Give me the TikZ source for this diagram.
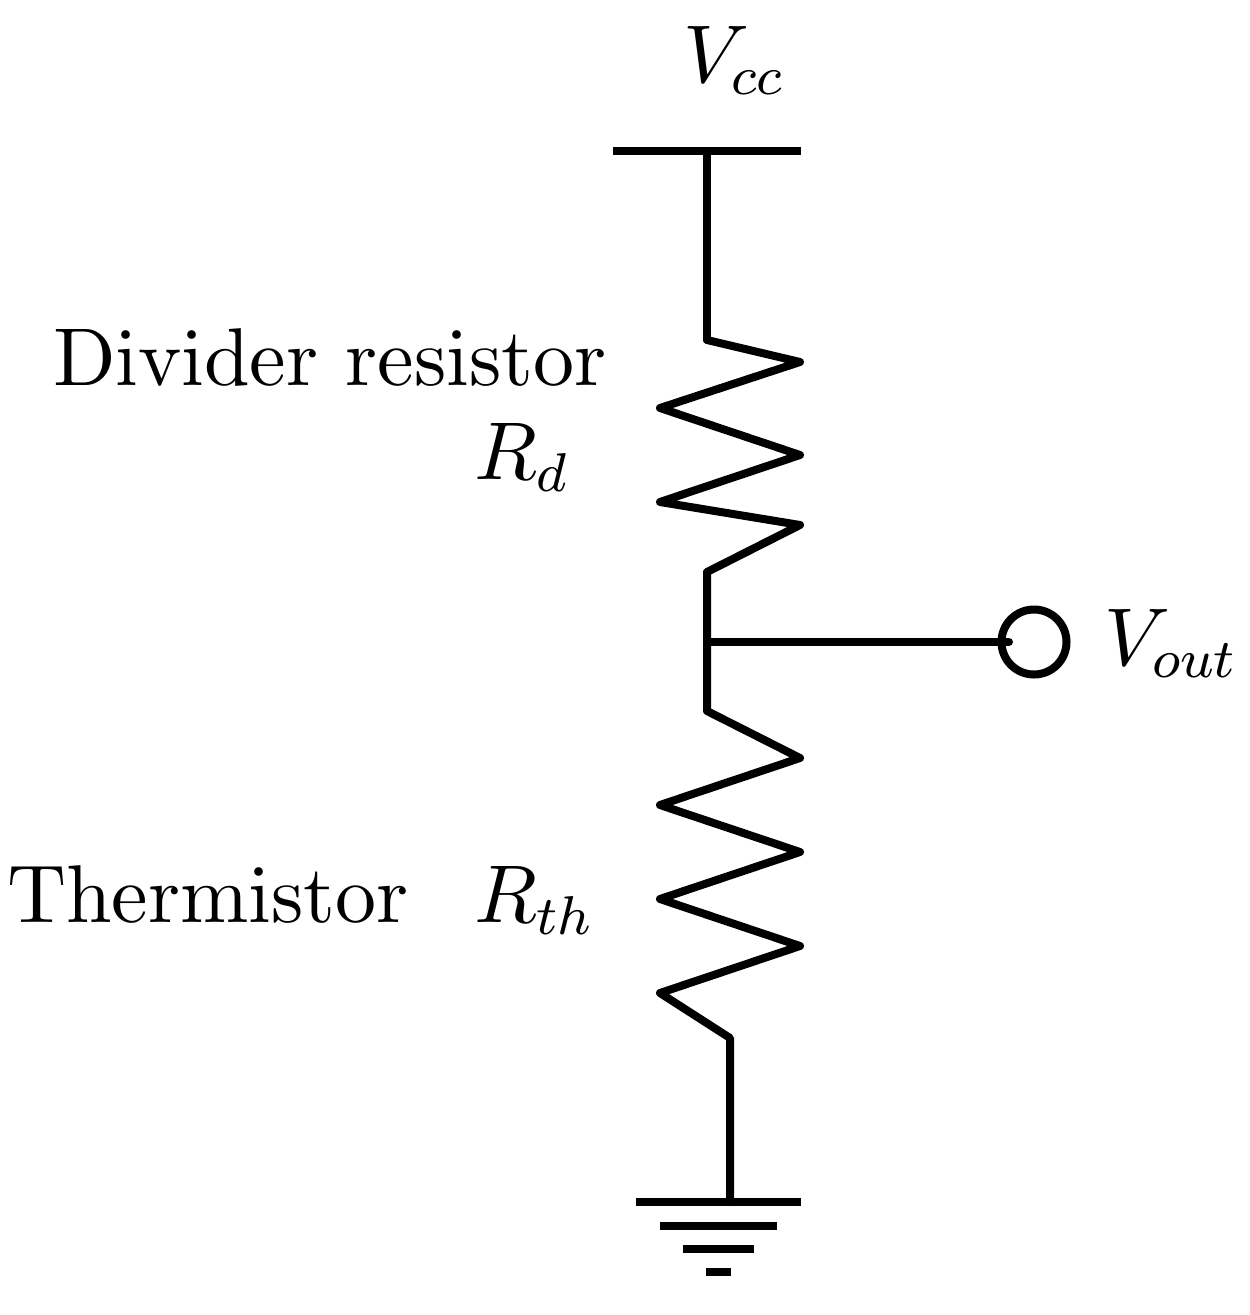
\documentclass[tikz,border=0pt]{standalone}
\DeclareFontShape{OML}{cmm}{m}{it}{<-62>cmmi8 <62->cmmi10}{}
\DeclareFontShape{OMS}{cmsy}{m}{n}{<-62>cmsy8 <62->cmsy10}{}
\DeclareFontShape{OMX}{cmex}{m}{n}{<->cmex10}{}
\DeclareFontFamily{OT1}{bigcmr}{}
\DeclareFontShape{OT1}{bigcmr}{m}{n}{<->cmr10}{}
\DeclareMathSizes{82}{82}{54.7}{41}
\begin{document}
\begin{tikzpicture}[x=1pt,y=-1pt,
  wire/.style={line width=8pt,black,line join=round,line cap=round},
  bar/.style={line width=8pt,black,line cap=butt},
  lab/.style={inner sep=0pt,font=\usefont{OT1}{bigcmr}{m}{n}\fontsize{82}{96}\selectfont}]
\useasboundingbox (0,0) rectangle (1250,1315);
\fill[white] (0,0) rectangle (1250,1315);
\coordinate (vccL) at (613,151);
\coordinate (vccR) at (801,151);
\coordinate (vccT) at (707,151);
\coordinate (rdTop) at (707,340);
\coordinate (rdBot) at (707,572);
\coordinate (junc) at (707,642);
\coordinate (rthTop) at (707,711);
\coordinate (rthBot) at (730,1038);
\coordinate (gndT) at (730,1202);
\coordinate (g1L) at (636,1202);
\coordinate (g1R) at (801,1202);
\coordinate (g2L) at (660,1226);
\coordinate (g2R) at (777,1226);
\coordinate (g3L) at (683,1249);
\coordinate (g3R) at (754,1249);
\coordinate (g4L) at (706,1272);
\coordinate (g4R) at (731,1272);
\coordinate (voutIn) at (1009,642);
\node[circle,draw,line width=8pt,minimum size=65pt,inner sep=0pt] (vout) at (1034,642) {};
\draw[bar] (vccL) -- (vccR);
\draw[wire] (vccT) -- (rdTop);
\draw[wire] (rdTop) -- (800,362) -- (660,408) -- (800,455) -- (660,502) -- (800,525) -- (rdBot) -- (junc) -- (rthTop)
  -- (800,758) -- (660,805) -- (800,852) -- (660,899) -- (800,946) -- (660,993) -- (rthBot) -- (gndT);
\draw[wire] (junc) -- (voutIn);
\draw[bar] (g1L) -- (g1R);
\draw[bar] (g2L) -- (g2R);
\draw[bar] (g3L) -- (g3R);
\draw[bar] (g4L) -- (g4R);
\node[lab,anchor=base west] (lvcc) at (683,82) {$V_{cc}$};
\node[lab,anchor=base west] (ldiv) at (53,385) {Divider resistor};
\node[lab,anchor=base west] (lrd) at (474,479) {$R_{d}$};
\node[lab,anchor=base west] (lth) at (7,922) {Thermistor};
\node[lab,anchor=base west] (lrth) at (474,922) {$R_{th}$};
\node[lab,anchor=base west] (lvout) at (1104,665) {$V_{out}$};
\end{tikzpicture}
\end{document}
